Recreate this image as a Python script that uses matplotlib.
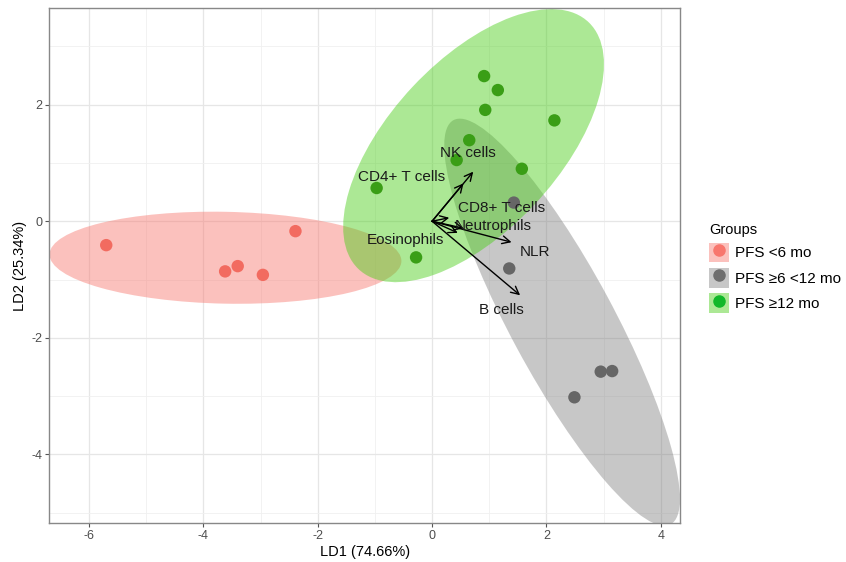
import numpy as np
import matplotlib
matplotlib.use("Agg")
import matplotlib.pyplot as plt
from matplotlib.patches import Ellipse, Patch
from matplotlib.lines import Line2D

plt.rcParams['font.family'] = ['Liberation Sans', 'DejaVu Sans']
plt.rcParams['axes.unicode_minus'] = False

# LDA scores per group
red_x = [-5.70, -3.62, -3.40, -2.96, -2.39]
red_y = [-0.41, -0.86, -0.77, -0.92, -0.17]
grey_x = [1.43, 1.35, 2.95, 3.15, 2.49]
grey_y = [0.32, -0.81, -2.58, -2.57, -3.02]
green_x = [0.91, 1.15, 0.93, 2.14, 0.65, 0.43, 1.57, -0.97, -0.28]
green_y = [2.49, 2.25, 1.91, 1.73, 1.39, 1.05, 0.90, 0.57, -0.62]

group_names = ['PFS <6 mo', 'PFS \u22656 <12 mo', 'PFS \u226512 mo']

# variable loadings (arrow tips) and label spots
var_names = ['NK cells', 'CD4+ T cells', 'CD8+ T cells', 'Neutrophils', 'Eosinophils', 'NLR', 'B cells']
var_x = [0.72, 0.55, 0.30, 0.55, 0.45, 1.39, 1.54]
var_y = [0.85, 0.65, 0.06, -0.12, -0.20, -0.36, -1.27]
lab_x = [0.63, -0.54, 1.22, 1.07, -0.47, 1.80, 1.21]
lab_y = [1.17, 0.76, 0.22, -0.09, -0.33, -0.53, -1.53]

fill_cols = ['#F8766D', '#757575', '#47CE14']
fill_alpha = [0.45, 0.4, 0.45]
point_cols = ['#F26B60', '#666666', '#3A9E16']
key_point_cols = ['#F8766D', '#6E6E6E', '#12B82A']

CHI2_95 = 5.991


def add_ellipse(ax, xs, ys, color, alpha):
    pts = np.column_stack([xs, ys])
    mu = pts.mean(axis=0)
    cov = np.cov(pts, rowvar=False)
    vals, vecs = np.linalg.eigh(cov)
    order = vals.argsort()[::-1]
    vals, vecs = vals[order], vecs[:, order]
    angle = np.degrees(np.arctan2(vecs[1, 0], vecs[0, 0]))
    w, h = 2 * np.sqrt(CHI2_95 * vals)
    e = Ellipse(mu, w, h, angle=angle, facecolor=color, alpha=alpha, edgecolor='none', zorder=2)
    ax.add_patch(e)


fig = plt.figure(figsize=(8.46, 5.62), dpi=100)
ax = fig.add_axes([0.058, 0.069, 0.746, 0.917])

groups = [(red_x, red_y), (grey_x, grey_y), (green_x, green_y)]
for (gx, gy), fc, fa in zip(groups, fill_cols, fill_alpha):
    add_ellipse(ax, gx, gy, fc, fa)
for (gx, gy), pc in zip(groups, point_cols):
    ax.scatter(gx, gy, s=80, color=pc, edgecolors='none', zorder=3)

for name, vx, vy, tx, ty in zip(var_names, var_x, var_y, lab_x, lab_y):
    ax.annotate('', xy=(vx, vy), xytext=(0, 0),
                arrowprops=dict(arrowstyle='->', color='black', lw=1.0, mutation_scale=14,
                                shrinkA=0, shrinkB=0), zorder=4)
    ax.text(tx, ty, name, ha='center', va='center', fontsize=11, color='#1a1a1a', zorder=5)

ax.set_xlim(-6.70, 4.34)
ax.set_ylim(-5.18, 3.66)
ax.set_xticks([-6, -4, -2, 0, 2, 4])
ax.set_yticks([-4, -2, 0, 2])
ax.set_xticks([-5, -3, -1, 1, 3], minor=True)
ax.set_yticks([-5, -3, -1, 1, 3], minor=True)
ax.grid(which='major', color='#E6E6E6', lw=0.9, zorder=0)
ax.grid(which='minor', color='#F0F0F0', lw=0.6, zorder=0)
ax.set_axisbelow(True)
ax.tick_params(which='major', length=3, color='#555555', labelcolor='#4D4D4D', labelsize=9, width=0.8, pad=2)
ax.tick_params(which='minor', length=0)
for sp in ax.spines.values():
    sp.set_color('#888888')
    sp.set_linewidth(1.0)

ax.set_xlabel('LD1 (74.66%)', fontsize=10.5, labelpad=2)
ax.set_ylabel('LD2 (25.34%)', fontsize=10.5, labelpad=3)

handles = []
for fc, fa, kc in zip(fill_cols, fill_alpha, key_point_cols):
    handles.append((Patch(facecolor=fc, alpha=fa, edgecolor='none'),
                    Line2D([], [], marker='o', ls='none', color=kc, markersize=8)))
leg = fig.legend(handles, group_names, loc='upper left', bbox_to_anchor=(0.822, 0.628),
                 title='Groups', frameon=False, fontsize=11, title_fontsize=10.5,
                 handlelength=1.3, handleheight=1.6, handletextpad=0.4, labelspacing=0.38)
leg._legend_box.align = 'left'

fig.savefig('out.png', dpi=100)
